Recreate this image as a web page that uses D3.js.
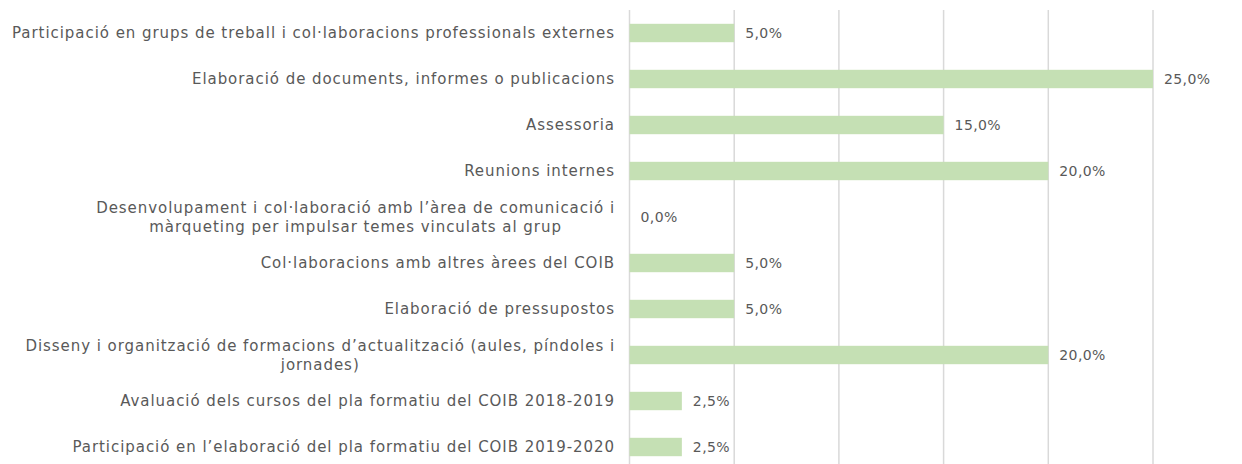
<!DOCTYPE html>
<html><head><meta charset="utf-8">
<script src="https://cdn.jsdelivr.net/npm/d3@7"></script>
<style>body{margin:0;background:#fff}</style>
</head><body>
<svg id="c" width="1242" height="464"></svg>
<script>
const categories = [
  ["Participació en grups de treball i col·laboracions professionals externes"],
  ["Elaboració de documents, informes o publicacions"],
  ["Assessoria"],
  ["Reunions internes "],
  ["Desenvolupament i col·laboració amb l’àrea de comunicació i", "màrqueting per impulsar temes vinculats al grup"],
  ["Col·laboracions amb altres àrees del COIB"],
  ["Elaboració de pressupostos"],
  ["Disseny i organització de formacions d’actualització (aules, píndoles i", "jornades)"],
  ["Avaluació dels cursos del pla formatiu del COIB 2018-2019"],
  ["Participació en l’elaboració del pla formatiu del COIB 2019-2020"]
];
const values = [5.0, 25.0, 15.0, 20.0, 0.0, 5.0, 5.0, 20.0, 2.5, 2.5];
const gridTicks = [0, 5, 10, 15, 20, 25];

const svg = d3.select("#c");
const x = d3.scaleLinear().domain([0, 25]).range([629.5, 1153]);
const y = d3.scaleBand().domain(d3.range(categories.length)).range([10, 470]).paddingInner(0.6).paddingOuter(0.3);

svg.append("g").selectAll("line").data(gridTicks).join("line")
  .attr("x1", d => x(d)).attr("x2", d => x(d))
  .attr("y1", 10).attr("y2", 464)
  .attr("stroke", "#d9d9d9").attr("stroke-width", 1.5);

svg.append("g").selectAll("rect").data(values).join("rect")
  .attr("x", x(0)).attr("y", (d, i) => y(i))
  .attr("width", d => x(d) - x(0)).attr("height", y.bandwidth())
  .attr("fill", "#c5e0b4");

const fmt = v => v.toFixed(1).replace(".", ",") + "%";
svg.append("g").selectAll("text").data(values).join("text")
  .attr("x", d => x(d) + 11).attr("y", (d, i) => y(i) + y.bandwidth() / 2)
  .attr("dy", "0.35em")
  .attr("font-family", "DejaVu Sans, Verdana, sans-serif").attr("font-size", 14)
  .attr("letter-spacing", 0.4)
  .attr("fill", "#595959")
  .text(fmt);

const labelRight = 615;
const lineH = 19;
const lg = svg.append("g").attr("font-family", "DejaVu Sans, Verdana, sans-serif").attr("font-size", 15)
  .attr("letter-spacing", 0.95).attr("fill", "#595959").style("white-space", "pre");
categories.forEach((lines, i) => {
  const cy = y(i) + y.bandwidth() / 2;
  const t = lg.append("text");
  const tspans = lines.map((l, k) => t.append("tspan").text(l)
    .attr("y", cy + (k - (lines.length - 1) / 2) * lineH).attr("dy", "0.35em"));
  const widths = tspans.map(s => s.node().getComputedTextLength());
  const maxW = Math.max(...widths);
  const center = labelRight - maxW / 2;
  tspans.forEach(s => s.attr("x", center).attr("text-anchor", "middle"));
});
</script>
</body></html>
